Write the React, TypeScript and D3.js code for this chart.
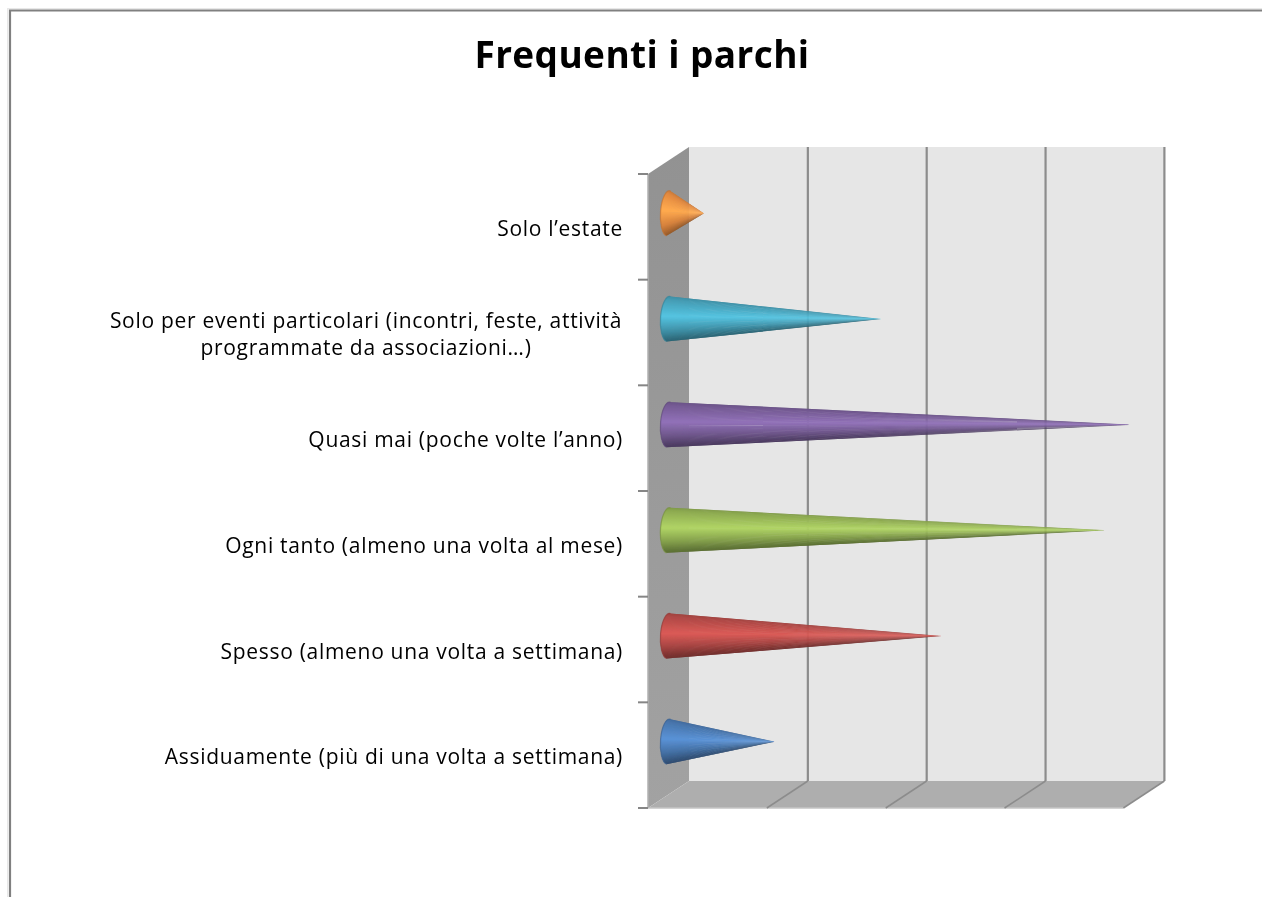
import React from "react";
import * as d3 from "d3";

const categories = [
  ["Solo l’estate"],
  ["Solo per eventi particolari (incontri, feste, attività", "programmate da associazioni…)"],
  ["Quasi mai (poche volte l’anno)"],
  ["Ogni tanto (almeno una volta al mese)"],
  ["Spesso (almeno una volta a settimana)"],
  ["Assiduamente (più di una volta a settimana)"],
];
const values = [3.0, 18.0, 39.3, 37.1, 23.1, 9.0];
const colors = ["#F79646", "#4BACC6", "#8064A2", "#9BBB59", "#C0504D", "#4F81BD"];
const valueTicks = [0, 10, 20, 30, 40];
const title = "Frequenti i parchi";

const W = 1262, H = 897;
const frontLeft = 648, frontBottom = 808, frontTop = 174;
const depthX = 41, depthY = -27;
const x = d3.scaleLinear().domain([0, 40]).range([frontLeft, 1123.4]);
const y = d3.scaleBand<number>().domain(d3.range(categories.length)).range([frontTop, frontBottom]);
const font = "'Open Sans', sans-serif";
const pts = (a: number[][]) => a.map((p) => p.join(",")).join(" ");
const wedgeCount = 48;
const highlightAt = 0.44;

function shade(c: string, k: number) {
  const q = d3.rgb(c);
  return k < 0 ? q.darker(-k).formatHex() : q.brighter(k).formatHex();
}

function coneRamp(c: string) {
  return d3
    .scaleLinear<string>()
    .domain([0, 0.1, highlightAt, 0.72, 0.92, 1])
    .range([shade(c, -0.6), shade(c, -0.25), shade(c, 0.35), shade(c, -0.4), shade(c, -1.3), shade(c, -1.6)]);
}

// wedges painted from the outside in, so the light band stays on top at the tip
const wedgeOrder = d3
  .range(wedgeCount)
  .sort((a, b) => Math.abs((b + 0.5) / wedgeCount - highlightAt) - Math.abs((a + 0.5) / wedgeCount - highlightAt));

export default function App() {
  const back = (v: number) => x(v) + depthX;
  const backTop = frontTop + depthY, backBottom = frontBottom + depthY;
  const coneOffsetX = depthX / 2, coneOffsetY = depthY / 2;
  const ry = 22.5, rx = 8;
  return (
    <svg width={W} height={H} style={{ position: "absolute", left: 0, top: 0, background: "#fff" }}>
      <defs>
        <filter id="soft" x="0" y="0" width="100%" height="100%">
          <feGaussianBlur stdDeviation="0.45" />
        </filter>
        <linearGradient id="wall" x1="0" y1="0" x2="0" y2="1">
          <stop offset="0" stopColor="#929292" />
          <stop offset="1" stopColor="#a2a2a2" />
        </linearGradient>
      </defs>
      <g filter="url(#soft)">
        <path d={`M7.5 ${H}V8.5H${W}`} fill="none" stroke="#e8e8e8" strokeWidth="1.5" />
        <path d={`M10 ${H}V10.5H${W}`} fill="none" stroke="#808080" strokeWidth="2.2" />
        <text x={642} y={68} textAnchor="middle" fontFamily={font} fontWeight={700} fontSize={37} letterSpacing={0.4} fill="#000">{title}</text>

        <rect x={back(0)} y={backTop} width={x(40) - x(0)} height={backBottom - backTop} fill="#e6e6e6" />
        <polygon points={pts([[frontLeft, frontTop], [back(0), backTop], [back(0), backBottom], [frontLeft, frontBottom]])} fill="url(#wall)" />
        <polygon points={pts([[frontLeft, frontBottom], [back(0), backBottom], [back(40), backBottom], [x(40), frontBottom]])} fill="#aeaeae" />
        <line x1={frontLeft} x2={x(40)} y1={frontBottom} y2={frontBottom} stroke="#c4c4c4" strokeWidth="1.5" />
        <line x1={frontLeft} x2={frontLeft} y1={frontTop} y2={frontBottom} stroke="#b0b0b0" strokeWidth="1.5" />

        {valueTicks.slice(1).map((t) => (
          <g key={t} stroke="#8c8c8c" fill="none">
            <line x1={back(t)} x2={back(t)} y1={backTop} y2={backBottom} strokeWidth="2.2" />
            <line x1={back(t)} x2={x(t)} y1={backBottom} y2={frontBottom} strokeWidth="1.5" />
          </g>
        ))}
        {d3.range(categories.length + 1).map((i) => {
          const ty = frontTop + i * y.step();
          return <line key={i} x1={638} x2={frontLeft} y1={ty} y2={ty} stroke="#868686" strokeWidth="2" />;
        })}

        {values.map((v, i) => {
          const cy = y(i)! + y.bandwidth() / 2 + coneOffsetY;
          const cx = x(0) + coneOffsetX;
          const tip = x(v) + coneOffsetX;
          const arc = `M${cx + 2} ${cy - ry}A${rx} ${ry} 3 0 0 ${cx - 2} ${cy + ry}`;
          const ramp = coneRamp(colors[i]);
          const baseX = cx - rx - 2;
          const spread = (ry + 1) * (tip - baseX) / (tip - cx);
          return (
            <g key={i}>
              <clipPath id={`c${i}`}>
                <path d={`${arc}L${tip} ${cy}Z`} />
              </clipPath>
              <g clipPath={`url(#c${i})`}>
                {wedgeOrder.map((k) => {
                  const t0 = (k - 0.4) / wedgeCount, t1 = (k + 1.4) / wedgeCount;
                  return (
                    <polygon
                      key={k}
                      points={pts([[tip, cy], [baseX, cy - spread + 2 * spread * t0], [baseX, cy - spread + 2 * spread * t1]])}
                      fill={ramp((k + 0.5) / wedgeCount)}
                    />
                  );
                })}
              </g>
              <path d={arc} fill="none" stroke={shade(colors[i], -0.7)} strokeWidth="1.2" opacity="0.7" />
            </g>
          );
        })}

        {categories.map((lines, i) => {
          const c = y(i)! + y.bandwidth() / 2 + 9;
          return (
            <g key={i} fontFamily={font} fontSize={21} letterSpacing={0.7} fill="#000">
              {lines.length === 1 ? (
                <text x={623} y={c} textAnchor="end">{lines[0]}</text>
              ) : (
                lines.map((l, j) => (
                  <text key={j} x={366} y={c - 14 + j * 27} textAnchor="middle">{l}</text>
                ))
              )}
            </g>
          );
        })}
      </g>
    </svg>
  );
}
